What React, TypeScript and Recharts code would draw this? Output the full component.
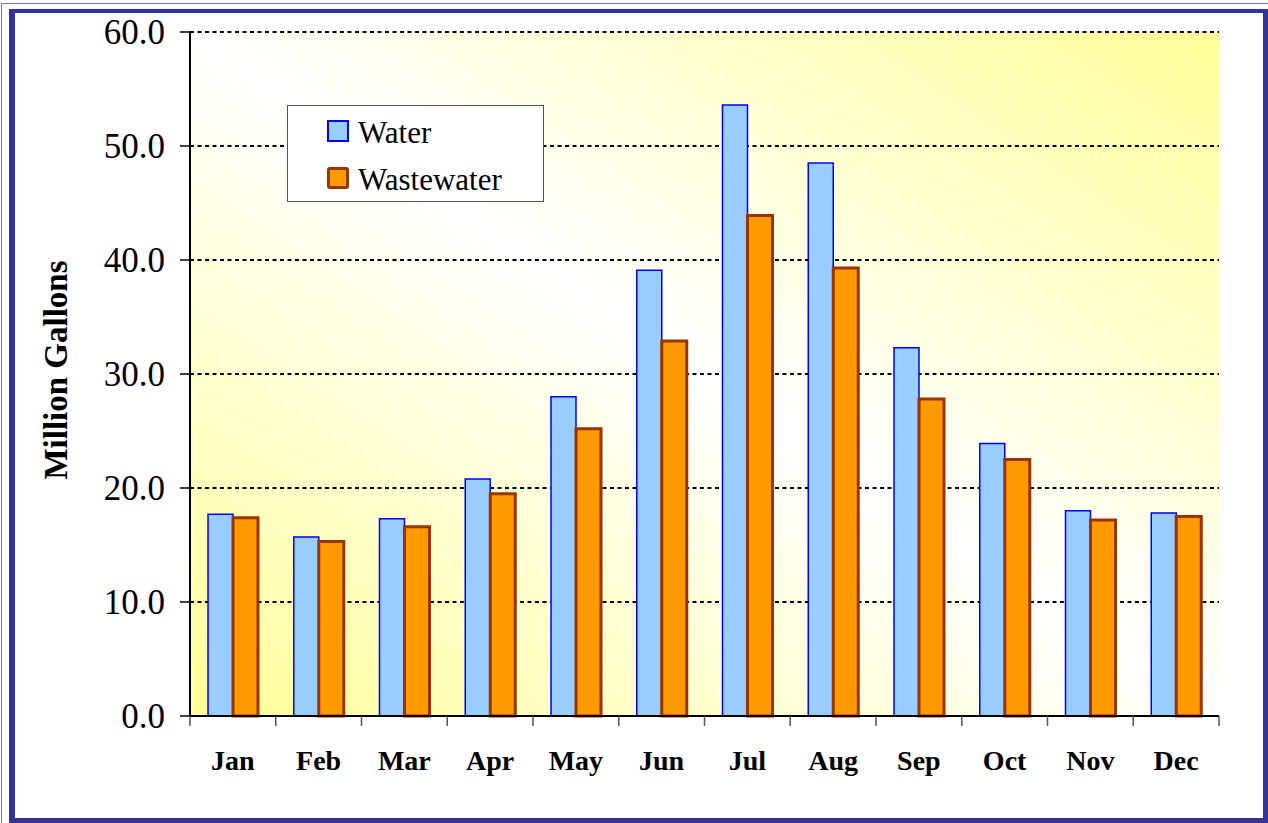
import { BarChart, Bar, XAxis, YAxis, CartesianGrid, Legend } from "recharts";

const months = ["Jan", "Feb", "Mar", "Apr", "May", "Jun", "Jul", "Aug", "Sep", "Oct", "Nov", "Dec"];
const water = [17.7, 15.7, 17.3, 20.8, 28.0, 39.1, 53.6, 48.5, 32.3, 23.9, 18.0, 17.8];
const wastewater = [17.4, 15.3, 16.6, 19.5, 25.2, 32.9, 43.9, 39.3, 27.8, 22.5, 17.2, 17.5];
const yTicks = [0, 10, 20, 30, 40, 50, 60];

const data = months.map((m, i) => ({ month: m, water: water[i], wastewater: wastewater[i] }));

const W = 1268;
const H = 823;
const margin = { top: 32, right: 49, bottom: 0, left: 0 };
const Y_AXIS_W = 190;
const BAND = (W - margin.right - Y_AXIS_W) / months.length;
const SERIF = "Liberation Serif, Times New Roman, serif";

const MonthTick = (props: any) => {
  const { x, y, payload, index } = props;
  const half = BAND / 2;
  return (
    <g>
      <line x1={x - half} x2={x - half} y1={y} y2={y + 10} stroke="#555" strokeWidth={1.5} />
      {index === months.length - 1 && (
        <line x1={x + half} x2={x + half} y1={y} y2={y + 10} stroke="#555" strokeWidth={1.5} />
      )}
      <text x={x} y={y + 54} textAnchor="middle" fontFamily={SERIF} fontWeight="bold" fontSize={28} fill="#000">
        {payload.value}
      </text>
    </g>
  );
};

// legend drawn as svg so it uses the same serif text as the axes
const renderLegend = () => (
  <svg width={257} height={97} style={{ display: "block", fontFamily: SERIF }}>
    <rect x={0.5} y={0.5} width={256} height={96} fill="#fff" stroke="#555" strokeWidth={1} />
    <rect x={41} y={16} width={20} height={20} fill="#99CCFF" stroke="#0000FF" strokeWidth={2} />
    <text x={71} y={37.5} fontFamily={SERIF} fontSize={31} fill="#000">Water</text>
    <rect x={41.5} y={63.5} width={19} height={19} rx={1.5} fill="#FF9900" stroke="#993300" strokeWidth={3} />
    <text x={71} y={85} fontFamily={SERIF} fontSize={31} fill="#000">Wastewater</text>
  </svg>
);

export default function App() {
  return (
    <div style={{ position: "absolute", left: 0, top: 0, width: W, height: H, background: "#fff", overflow: "hidden" }}>
      <div style={{ position: "absolute", left: 1, top: 3, width: 1400, height: 1000, border: "1.5px solid #7373c4" }} />
      <div
        style={{
          position: "absolute",
          left: 9,
          top: 9,
          width: W - 9,
          height: H - 9,
          boxSizing: "border-box",
          borderStyle: "solid",
          borderColor: "#333399",
          borderWidth: "4px 5px 5px 6px",
        }}
      />
      <div style={{ position: "absolute", left: 0, top: 0 }}>
        <BarChart width={W} height={H} data={data} margin={margin} barGap={0} barSize={25}>
          <defs>
            <linearGradient id="plotBg" x1="0" y1="1" x2="1" y2="0">
              <stop offset="0" stopColor="#FFFF99" />
              <stop offset="0.5" stopColor="#FFFFFF" />
              <stop offset="1" stopColor="#FFFF99" />
            </linearGradient>
          </defs>
          <CartesianGrid
            yAxisId="left"
            vertical={false}
            fill="url(#plotBg)"
            fillOpacity={1}
            horizontal={{ stroke: "#000", strokeWidth: 2, strokeDasharray: "4 3.5" }}
            stroke="#000"
            strokeWidth={2}
            strokeDasharray="4 3.5"
          />
          <XAxis
            dataKey="month"
            interval={0}
            height={107}
            tickSize={0}
            tickMargin={0}
            tickLine={false}
            axisLine={{ stroke: "#000", strokeWidth: 2 }}
            tick={<MonthTick />}
          />
          <YAxis
            yAxisId="left"
            width={Y_AXIS_W}
            domain={[0, 60]}
            ticks={yTicks}
            interval={0}
            tickFormatter={(v: number) => v.toFixed(1)}
            tickSize={10}
            tickMargin={15}
            tickLine={{ stroke: "#000", strokeWidth: 1.5 }}
            axisLine={{ stroke: "#000", strokeWidth: 2 }}
            tick={{ fill: "#000", fontFamily: SERIF, fontSize: 35 }}
            label={{
              content: (p: any) => {
                const vb = p.viewBox;
                const cy = vb.y + vb.height / 2 - 4;
                return (
                  <text
                    x={56}
                    y={cy}
                    transform={`rotate(-90 56 ${cy})`}
                    textAnchor="middle"
                    dominantBaseline="central"
                    fontFamily={SERIF}
                    fontWeight="bold"
                    fontSize={33}
                    fill="#000"
                  >
                    Million Gallons
                  </text>
                );
              },
            }}
          />
          <YAxis
            yAxisId="right"
            orientation="right"
            width={0}
            domain={[0, 60]}
            tick={false}
            tickLine={false}
            axisLine={{ stroke: "#000", strokeWidth: 2 }}
          />
          <Legend
            layout="vertical"
            align="center"
            verticalAlign="middle"
            wrapperStyle={{ left: 287, top: 105, width: 257, height: 97 }}
            content={renderLegend}
          />
          <Bar yAxisId="left" dataKey="water" name="Water" fill="#99CCFF" stroke="#0000FF" strokeWidth={1.5} isAnimationActive={false} />
          <Bar yAxisId="left" dataKey="wastewater" name="Wastewater" fill="#FF9900" stroke="#993300" strokeWidth={3} isAnimationActive={false} />
        </BarChart>
      </div>
    </div>
  );
}
